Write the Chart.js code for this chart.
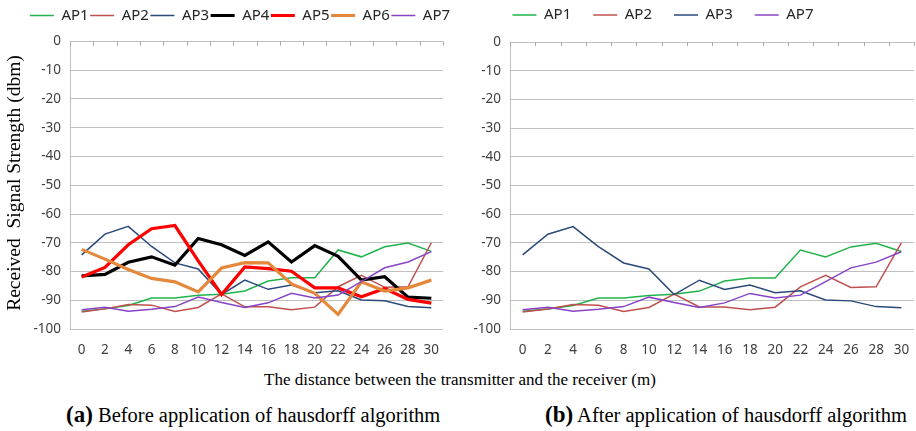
<!DOCTYPE html>
<html>
<head>
<meta charset="utf-8">
<script src="https://cdn.jsdelivr.net/npm/chart.js@4.4.1/dist/chart.umd.min.js"></script>
<style>
  html, body { margin: 0; padding: 0; background: #fff; }
  body { width: 916px; height: 431px; position: relative; overflow: hidden; }
  canvas { position: absolute; top: 0; }
  #cLeft { left: 0; }
  #cRight { left: 410px; }
  .serif { position: absolute; font-family: "Liberation Serif", "DejaVu Serif", serif; color: #000; white-space: nowrap; }
  #yTitle { left: -136px; top: 171px; width: 300px; line-height: 24px; text-align: center; font-size: 19.5px; transform: rotate(-90deg); }
  #xTitle { top: 368px; left: 0; width: 920px; line-height: 24px; text-align: center; font-size: 17px; }
  #capA { top: 402px; left: 66px; line-height: 26px; font-size: 20.5px; }
  #capB { top: 402px; left: 545px; line-height: 26px; font-size: 20.5px; }
  .serif b { font-size: 23px; }
</style>
</head>
<body>
<canvas id="cLeft" width="480" height="362"></canvas>
<canvas id="cRight" width="506" height="362"></canvas>
<div id="yTitle" class="serif">Received&nbsp; Signal Strength (dbm)</div>
<div id="xTitle" class="serif">The distance between the transmitter and the receiver (m)</div>
<div id="capA" class="serif"><b>(a)</b> Before application of hausdorff algorithm</div>
<div id="capB" class="serif"><b>(b)</b> After application of hausdorff algorithm</div>
<script>
// === Data ===
const distances = ["0","2","4","6","8","10","12","14","16","18","20","22","24","26","28","30"];
const yTicks = [0,-10,-20,-30,-40,-50,-60,-70,-80,-90,-100];

const ap1 = [-93.8,-93.0,-91.8,-89.2,-89.2,-88.3,-87.9,-86.8,-83.3,-82.2,-82.2,-72.5,-74.9,-71.4,-70.1,-73.0];
const ap2 = [-94.1,-93.0,-91.5,-91.7,-93.9,-92.5,-87.8,-92.3,-92.3,-93.3,-92.4,-85.3,-81.3,-85.5,-85.3,-70.0];
const ap3 = [-74.2,-67.0,-64.3,-71.3,-77.0,-79.1,-88.0,-83.0,-86.2,-84.7,-87.4,-86.7,-89.9,-90.2,-92.2,-92.6];
const ap4 = [-81.5,-81.0,-76.8,-74.9,-77.8,-68.5,-70.7,-74.4,-69.7,-76.7,-71.0,-74.7,-83.0,-81.8,-88.9,-89.3];
const ap5 = [-81.9,-78.6,-70.7,-65.1,-64.0,-76.3,-88.0,-78.4,-79.0,-79.9,-85.7,-85.7,-88.8,-85.9,-89.7,-91.0];
const ap6 = [-72.3,-75.7,-79.3,-82.4,-83.6,-87.1,-78.8,-76.9,-77.0,-84.3,-87.6,-94.9,-83.6,-86.8,-85.7,-83.0];
const ap7 = [-93.3,-92.4,-93.8,-93.1,-92.2,-88.9,-90.8,-92.5,-90.9,-87.6,-89.2,-88.2,-83.5,-78.7,-76.7,-73.1];

const colors = {
  AP1: "#22b24c", AP2: "#c0504d", AP3: "#2b4a7a", AP4: "#000000",
  AP5: "#ff0000", AP6: "#e4883c", AP7: "#8644c6"
};
const gridColor = "#bfbfbf";
const tickFont = { family: "'Noto Sans', 'DejaVu Sans', sans-serif", size: 13.5 };

function ds(label, data, width, idx) {
  return {
    label, data,
    borderColor: colors[label], backgroundColor: colors[label],
    borderWidth: width, pointRadius: 0, tension: 0, fill: false,
    order: 10 - idx // later series on top, like the original
  };
}

// small tick marks hanging down from the 0 line, at the category boundaries
const topTicks = {
  id: "topTicks",
  afterDraw(chart) {
    const x = chart.scales.x, y = chart.scales.y;
    const ctx = chart.ctx;
    ctx.save();
    ctx.strokeStyle = "#a6a6a6";
    ctx.lineWidth = 1;
    ctx.beginPath();
    for (let i = 0; i <= distances.length; i++) {
      const px = Math.round(x.getPixelForValue(i - 0.5)) + 0.5;
      ctx.moveTo(px, y.top);
      ctx.lineTo(px, y.top + 4);
    }
    ctx.stroke();
    ctx.restore();
  }
};

function makeOptions(cfg) {
  return {
    responsive: false,
    animation: false,
    devicePixelRatio: 1,
    layout: { padding: cfg.pad },
    plugins: {
      legend: {
        position: "top",
        maxHeight: cfg.legendMaxH,
        labels: {
          usePointStyle: true, pointStyle: "line", pointStyleWidth: 24,
          padding: cfg.legendPad, color: "#262626",
          font: { family: "'Noto Sans', 'DejaVu Sans', sans-serif", size: 15 },
          sort: (a, b) => a.datasetIndex - b.datasetIndex
        }
      },
      tooltip: { enabled: false }
    },
    scales: {
      x: {
        type: "category", offset: true,
        grid: { display: false }, border: { display: false },
        ticks: { color: "#404040", font: tickFont, padding: 5, maxRotation: 0, autoSkip: false },
        afterFit: s => { s.height = 33; }
      },
      xTop: {
        type: "category", position: "top", offset: true,
        grid: { display: false }, border: { display: false },
        ticks: { display: false },
        afterFit: s => { s.height = cfg.topGap; }
      },
      y: {
        min: -100, max: 0,
        afterBuildTicks: s => { s.ticks = yTicks.map(v => ({ value: v })); },
        grid: { color: gridColor, drawTicks: false },
        border: { display: true, color: gridColor },
        ticks: { color: "#404040", font: tickFont, padding: 9 },
        afterFit: s => { s.width = cfg.yWidth; }
      },
      yR: {
        type: "linear", position: "right",
        grid: { display: false }, border: { display: false },
        ticks: { display: false },
        afterFit: s => { s.width = cfg.rightGap; }
      }
    }
  };
}

// === (a) before ===
new Chart(document.getElementById("cLeft"), {
  type: "line",
  data: {
    labels: distances,
    datasets: [
      ds("AP1", ap1, 1.5, 0), ds("AP2", ap2, 1.5, 1), ds("AP3", ap3, 1.5, 2),
      ds("AP4", ap4, 3.2, 3), ds("AP5", ap5, 3.2, 4), ds("AP6", ap6, 3.2, 5),
      ds("AP7", ap7, 1.5, 6)
    ]
  },
  options: makeOptions({
    pad: { top: 6.5, left: 0, right: 0, bottom: 0 },
    legendPad: 1.5, legendMaxH: 27, yWidth: 70, rightGap: 37, topGap: 8.5
  }),
  plugins: [topTicks]
});

// === (b) after ===
new Chart(document.getElementById("cRight"), {
  type: "line",
  data: {
    labels: distances,
    datasets: [
      ds("AP1", ap1, 1.5, 0), ds("AP2", ap2, 1.5, 1), ds("AP3", ap3, 1.5, 2),
      ds("AP7", ap7, 1.5, 6)
    ]
  },
  options: makeOptions({
    pad: { top: -14.5, left: 0, right: 0, bottom: 0 },
    legendPad: 22, legendMaxH: 40, yWidth: 100, rightGap: 2, topGap: 16.5
  }),
  plugins: [topTicks]
});
</script>
</body>
</html>
